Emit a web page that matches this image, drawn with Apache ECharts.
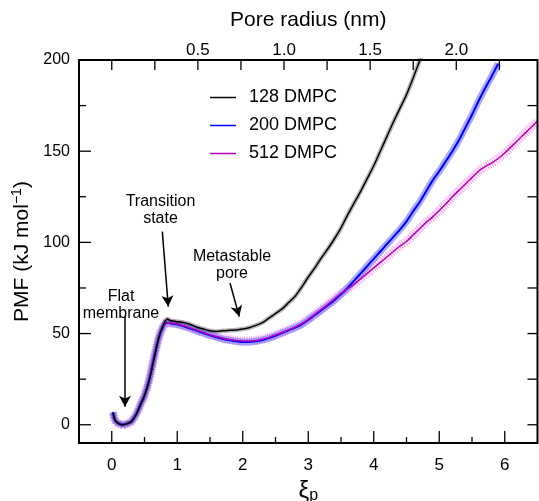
<!DOCTYPE html>
<html>
<head>
<meta charset="utf-8">
<script src="https://cdn.jsdelivr.net/npm/echarts@6/dist/echarts.min.js"></script>
<style>
  html, body { margin: 0; padding: 0; background: #fff; }
  #main { width: 539px; height: 501px; }
</style>
</head>
<body>
<div id="main"></div>
<script>
// 反应坐标 ξp 与 PMF (kJ/mol)
var xi128  = [0.02,0.05,0.1,0.17,0.25,0.3,0.37,0.45,0.5,0.57,0.65,0.72,0.78,0.82,0.85,0.9,1.0,1.1,1.2,1.3,1.4,1.5,1.6,1.7,1.8,1.9,2.0,2.1,2.2,2.3,2.4,2.5,2.6,2.7,2.8,2.9,3.0,3.1,3.2,3.3,3.4,3.5,3.6,3.7,3.8,3.9,4.0,4.1,4.2,4.3,4.4,4.5,4.6,4.7,4.73];
var pmf128 = [6.5,2.5,0.8,0,0.8,1.8,5.5,12,16,24,37,48,54,57,58,57,56.5,56,55,53.5,52.5,51.5,51.2,51.5,51.8,52,52.5,53.2,54.5,56,58.5,61,63.5,67,70.5,75.5,81,86,91.5,96.5,102,108,115,121.5,128,135,142,150,158,166,173.5,181,190,199.5,202];

var xi200  = [0.02,0.05,0.1,0.17,0.25,0.3,0.37,0.45,0.5,0.57,0.65,0.72,0.78,0.82,0.85,0.9,1.0,1.1,1.2,1.3,1.4,1.5,1.6,1.7,1.8,1.9,2.0,2.1,2.2,2.3,2.4,2.5,2.6,2.7,2.8,2.9,3.0,3.1,3.2,3.3,3.4,3.5,3.6,3.7,3.8,3.9,4.0,4.1,4.2,4.3,4.4,4.5,4.6,4.7,4.8,4.9,5.0,5.1,5.2,5.3,5.4,5.5,5.6,5.7,5.8,5.9];
var pmf200 = [7,2.5,0.8,0,0.8,1.8,5.5,12,16,24.5,37.5,48,53.5,55.5,56,55.5,55,54,52.8,51.5,50.3,49,48,47,46.3,45.8,45.4,45.4,45.8,46.5,47.5,48.8,50.3,51.8,53.3,55,57.5,60.2,62.8,65.5,68.3,71.5,75,79,83,87,91,95,99,103,107,111.5,117,122,128,134,139,144.5,150,156,163,170,177.5,184.5,191,198];

var xi512  = [0.02,0.05,0.1,0.17,0.25,0.3,0.37,0.45,0.5,0.57,0.65,0.72,0.78,0.82,0.85,0.9,1.0,1.1,1.2,1.3,1.4,1.5,1.6,1.7,1.8,1.9,2.0,2.1,2.2,2.3,2.4,2.5,2.6,2.7,2.8,2.9,3.0,3.1,3.2,3.3,3.4,3.5,3.6,3.7,3.8,3.9,4.0,4.1,4.2,4.3,4.4,4.5,4.6,4.7,4.8,4.9,5.0,5.1,5.2,5.3,5.4,5.5,5.6,5.7,5.8,5.9,6.0,6.1,6.2,6.3,6.4,6.5];
var pmf512 = [6,2.5,0.8,0,0.8,1.8,5.5,12,16,24.5,37.5,48,53.5,55.5,56,55.8,55.3,54.3,53,51.8,50.6,49.4,48.4,47.4,46.7,46.2,45.9,45.9,46.2,46.9,47.9,49.2,50.6,52,53.6,55.4,57.8,60.5,63.3,66,69,72,74.5,77,80,83,86,89,92,95,98,100.5,104,107.5,111,114,117.5,121,125,128.5,132,135.5,139,141.5,143.5,146,149,152.5,156,159.5,163,166.5];

var seriesNames = ['128 DMPC', '200 DMPC', '512 DMPC'];
var xTicks = [0, 1, 2, 3, 4, 5, 6];
var xMinorTicks = [0.5, 1.5, 2.5, 3.5, 4.5, 5.5];
var yLabels = [0, 50, 100, 150, 200];
var yTicks = [0, 50, 100, 150];
var yMinorTicks = [25, 75, 125, 175];
var yRightTicks = [0, 25, 50, 75, 100, 125, 150, 175];
var radiusTicks = [0, 0.25, 0.5, 0.75, 1.0, 1.25, 1.5, 1.75, 2.0, 2.25];
var radiusLabels = [0.5, 1.0, 1.5, 2.0];
var nmPerXi = 1 / 2.63;   // 孔半径与 ξp 的换算
var X_MIN = -0.5, X_MAX = 6.5, Y_MIN = -10, Y_MAX = 200;

function zip(xs, ys) {
    var out = [];
    for (var i = 0; i < xs.length; i++) {
        out.push([xs[i], ys[i]]);
    }
    return out;
}

var FONT = '"Liberation Sans", Arial, sans-serif';
var d128 = zip(xi128, pmf128);
var d200 = zip(xi200, pmf200);
var d512 = zip(xi512, pmf512);

var myChart = echarts.init(document.getElementById('main'));

function band(name, data, color, width, dash) {
    return {
        name: name, type: 'line', data: data, symbol: 'none', smooth: 0.3,
        silent: true, z: 1,
        lineStyle: { color: color, width: width, type: dash || 'solid', cap: 'butt' }
    };
}
function mainLine(name, data, color, width, z) {
    return {
        name: name, type: 'line', data: data, symbol: 'none', smooth: 0.3,
        z: z, lineStyle: { color: color, width: width }, itemStyle: { color: color }
    };
}
// 只画标签的轴
function labelAxis(pos, min, max, labels, size, margin, extra) {
    var ax = {
        type: 'value', position: pos, min: min, max: max,
        axisLine: { show: false, onZero: false },
        axisTick: { show: false },
        axisLabel: { show: true, customValues: labels, fontSize: size, color: '#000', margin: margin, fontFamily: FONT },
        splitLine: { show: false }
    };
    return Object.assign(ax, extra || {});
}

// 边框和刻度: 通过坐标系换算绘制
function renderFrame(params, api) {
    var tl = api.coord([X_MIN, Y_MAX]);
    var br = api.coord([X_MAX, Y_MIN]);
    var kids = [];
    var tickStyle = { stroke: '#000', lineWidth: 1.3 };
    function seg(x1, y1, x2, y2) {
        kids.push({ type: 'line', shape: { x1: x1, y1: y1, x2: x2, y2: y2 }, style: tickStyle });
    }
    xTicks.forEach(function (v) { var p = api.coord([v, Y_MIN]); seg(p[0], p[1], p[0], p[1] - 12); });
    xMinorTicks.forEach(function (v) { var p = api.coord([v, Y_MIN]); seg(p[0], p[1], p[0], p[1] - 6); });
    radiusTicks.forEach(function (r) { var p = api.coord([r / nmPerXi, Y_MAX]); seg(p[0], p[1], p[0], p[1] + 10); });
    yTicks.forEach(function (v) { var p = api.coord([X_MIN, v]); seg(p[0], p[1], p[0] + 12, p[1]); });
    yMinorTicks.forEach(function (v) { var p = api.coord([X_MIN, v]); seg(p[0], p[1], p[0] + 7, p[1]); });
    yRightTicks.forEach(function (v) { var p = api.coord([X_MAX, v]); seg(p[0], p[1], p[0] - 10, p[1]); });
    kids.push({
        type: 'rect',
        shape: { x: tl[0], y: tl[1], width: br[0] - tl[0], height: br[1] - tl[1] },
        style: { fill: 'none', stroke: '#000', lineWidth: 2 }
    });
    return { type: 'group', children: kids };
}

var arrows = [
    [[0.772, 105.9], [0.863, 64.8]],
    [[1.805, 77.7], [1.947, 59.3]],
    [[0.202, 59.3], [0.202, 9.9]]
];
var notes = [
    { text: 'Transition\nstate', at: [0.744, 117.5] },
    { text: 'Metastable\npore', at: [1.836, 87.5] },
    { text: 'Flat\nmembrane', at: [0.141, 65.5] }
];

var xBottom = labelAxis('bottom', X_MIN, X_MAX, xTicks, 17, 14, {
    name: 'ξ{sub|p}', nameLocation: 'middle', nameGap: 33,
    nameTextStyle: { fontSize: 24, color: '#000', fontFamily: FONT,
        rich: { sub: { fontSize: 16, verticalAlign: 'bottom', padding: [10, 0, 0, 0], fontFamily: FONT } } }
});
var xTop = labelAxis('top', X_MIN * nmPerXi, X_MAX * nmPerXi, radiusLabels, 17, 1, {
    name: 'Pore radius (nm)', nameLocation: 'middle', nameGap: 29,
    nameTextStyle: { fontSize: 21, color: '#000', fontFamily: FONT }
});
xTop.axisLabel.formatter = function (v) { return v.toFixed(1); };
var yLeft = labelAxis('left', Y_MIN, Y_MAX, yLabels, 16, 9, {
    name: 'PMF (kJ mol{sup|−1})', nameLocation: 'middle', nameGap: 42, nameRotate: 90,
    nameTextStyle: { fontSize: 21, color: '#000', fontFamily: FONT,
        rich: { sup: { fontSize: 14, verticalAlign: 'top', padding: [0, 0, 10, 0], fontFamily: FONT } } }
});

option = {
    animation: false,
    textStyle: { fontFamily: FONT },
    grid: { left: 79, right: 1.5, top: 60, bottom: 58, containLabel: false, outerBoundsMode: 'none' },
    legend: {
        data: seriesNames,
        orient: 'vertical',
        left: 205, top: 83,
        itemWidth: 26, itemHeight: 14, itemGap: 9,
        icon: 'path://M0,6L26,6L26,7.5L0,7.5Z',
        textStyle: { fontFamily: FONT, fontSize: 18, color: '#000', padding: [0, 0, 0, 8], lineHeight: 19 },
        selectedMode: false
    },
    xAxis: [xBottom, xTop],
    yAxis: [yLeft],
    series: [
        band('band512', d512, 'rgba(255,120,240,0.75)', 9, [1, 1.4]),
        band('band200', d200, 'rgba(100,100,255,0.55)', 7),
        band('band128', d128, 'rgba(0,0,0,0.28)', 4.5),
        mainLine('200 DMPC', d200, '#0000ff', 2, 3),
        mainLine('512 DMPC', d512, '#b400b4', 1.5, 4),
        mainLine('128 DMPC', d128, '#000000', 1.5, 5),
        {
            name: 'notes', type: 'line', data: [], silent: true,
            markLine: {
                silent: true, animation: false,
                symbol: ['none', 'arrow'], symbolSize: [9, 11],
                label: { show: false },
                lineStyle: { color: '#000', width: 1.5, type: 'solid' },
                emphasis: { disabled: true },
                data: arrows.map(function (a) {
                    return [{ coord: a[0], symbol: 'none' }, { coord: a[1], symbol: 'arrow' }];
                })
            },
            markPoint: {
                silent: true, animation: false,
                symbol: 'circle', symbolSize: 1,
                itemStyle: { color: 'rgba(0,0,0,0)' },
                data: notes.map(function (n) {
                    return {
                        coord: n.at,
                        label: { show: true, position: 'inside', formatter: n.text, color: '#000',
                            fontSize: 16, lineHeight: 17, fontFamily: FONT, align: 'center', verticalAlign: 'middle' }
                    };
                })
            }
        },
        {
            name: 'frame', type: 'custom', data: [[0, 0]], silent: true, clip: false, z: 10,
            renderItem: renderFrame
        }
    ]
};

myChart.setOption(option);
</script>
</body>
</html>
